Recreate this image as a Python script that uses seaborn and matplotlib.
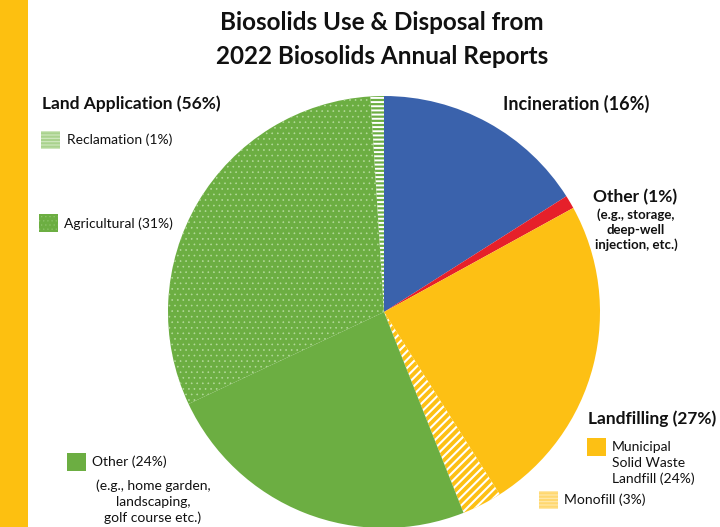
import matplotlib
matplotlib.use("Agg")
import matplotlib.pyplot as plt
from matplotlib.patches import Rectangle
import seaborn as sns

# Share of biosolids by use / disposal route (percent), clockwise from 12 o'clock
categories = ["Incineration", "Other", "Municipal Solid Waste Landfill",
              "Monofill", "Other (land)", "Agricultural", "Reclamation"]
shares = [16, 1, 24, 3, 24, 31, 1]
group_labels = ["Land Application (56%)", "Incineration (16%)",
                "Other (1%)", "Landfilling (27%)"]

BLUE = "#3A62AC"
RED = "#E6202A"
YELLOW = "#FDC014"
GREEN = "#6CAE42"
LIGHT_GREEN = "#A9D28E"
LIGHT_YELLOW = "#FFD870"

face_colors = [BLUE, RED, YELLOW, YELLOW, GREEN, GREEN, GREEN]
hatches = [None, None, None, "////", None, "...", "----"]
hatch_colors = [None, None, None, "white", None, "#B4DA9B", "white"]
hatch_widths = [None, None, None, 1.5, None, 0.45, 1.4]

sns.set_theme(style="white")
plt.rcParams["font.family"] = ["Lato", "DejaVu Sans"]
plt.rcParams["hatch.linewidth"] = 1.4

W, H = 720, 527
fig = plt.figure(figsize=(W / 100, H / 100), dpi=100)
ax = fig.add_axes([0, 0, 1, 1])

wedges, _ = ax.pie(shares, colors=face_colors, startangle=-90, counterclock=True,
                   center=(384, 312), radius=216,
                   wedgeprops=dict(linewidth=0))
for w, hatch, hc, hw in zip(wedges, hatches, hatch_colors, hatch_widths):
    if hatch:
        w.set_hatch(hatch)
        w.set_edgecolor(hc)
        w.set_linewidth(0)
        if hasattr(w, "set_hatch_linewidth"):
            w.set_hatch_linewidth(hw)

ax.set_xlim(0, W)
ax.set_ylim(H, 0)
ax.set_aspect("auto")
ax.axis("off")

# accent bar on the left edge
ax.add_patch(Rectangle((0, 0), 28, H, facecolor="#FDC010", edgecolor="none"))

TXT = "#111111"
ax.text(382, 22, "Biosolids Use & Disposal from", ha="center", va="center",
        fontsize=17.5, fontweight="bold", color=TXT)
ax.text(382, 57, "2022 Biosolids Annual Reports", ha="center", va="center",
        fontsize=17.5, fontweight="bold", color=TXT)

def swatch(x, y, face, hatch=None, hcol="white", hw=0.8):
    r = Rectangle((x, y), 19, 18, facecolor=face,
                  edgecolor=hcol if hatch else "none", linewidth=0, hatch=hatch)
    if hatch and hasattr(r, "set_hatch_linewidth"):
        r.set_hatch_linewidth(hw)
    ax.add_patch(r)

def label(x, y, s, size=10, bold=False, ha="left"):
    ax.text(x, y, s, ha=ha, va="center", fontsize=size,
            fontweight="bold" if bold else "normal", color=TXT)

# Land application group
label(42, 104, group_labels[0], size=12.5, bold=True)
swatch(41, 131, LIGHT_GREEN, "-----", "#D2E9C2", 0.8)
label(67, 140, "Reclamation (1%)")
swatch(39, 214, GREEN, "....", "#8EC46B", 0.4)
label(64, 224, "Agricultural (31%)")
swatch(67, 453, GREEN)
label(92, 462, "Other (24%)")
for yy, s in zip([486, 502, 518], ["(e.g., home garden,", "landscaping,", "golf course etc.)"]):
    label(153, yy, s, ha="center")

# Incineration
label(503, 104, group_labels[1], size=13, bold=True)

# Other
label(593, 197, group_labels[2], size=12.5, bold=True)
for yy, s in zip([215, 230, 245], ["(e.g., storage,", "deep-well", "injection, etc.)"]):
    label(636, yy, s, size=9.5, bold=True, ha="center")

# Landfilling group
label(588, 419, group_labels[3], size=12.5, bold=True)
swatch(587, 438, YELLOW)
for yy, s in zip([447, 463, 479], ["Municipal", "Solid Waste", "Landfill (24%)"]):
    label(612, yy, s)
swatch(539, 491, LIGHT_YELLOW, "-----", "#FFE9AE", 0.8)
label(564, 500, "Monofill (3%)")

fig.savefig("out.png", dpi=100, facecolor="white")
